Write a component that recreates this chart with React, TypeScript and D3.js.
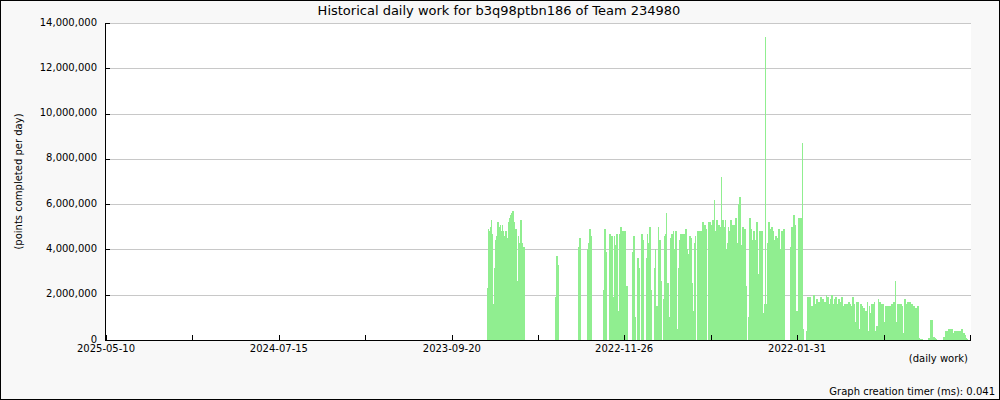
import React from 'react';
import * as d3 from 'd3';

const TITLE = 'Historical daily work for b3q98ptbn186 of Team 234980';
const Y_LABEL = '(points completed per day)';
const X_LABEL = '(daily work)';
const FOOTER = 'Graph creation timer (ms): 0.041';
const Y_TICKS = [0, 2e6, 4e6, 6e6, 8e6, 10e6, 12e6, 14e6];
const X_TICK_LABELS = ['2025-05-10', '2024-07-15', '2023-09-20', '2022-11-26', '2022-01-31'];
const X_DOMAIN = ['2025-05-10', '2021-04-07'];
const X_TICK_INTERVALS = 10;
const LATEST_DAY = '2023-07-20';
const UNIT = 100000;
// daily points (x100,000), newest day first; "0*n" = n days without work
const DAILY = `
23 49 49 48 48 50 50 53 47 47 16 16 32 32 44 46 46 52 52 50 50 49 51 51 48 48 51 48 48 46 46 48 48 46 45 45
52 52 54 54 55 56 56 57 57 53 52 52 49 49 26 26 17 46 46 43 43 53 53 41 43 43 41 41
0*53
19 19 37 37 33 33
0*34
41 41 45 45 19
0*11
40 40 43 49 49 46 46 22
0*19
22 22 49 49 39 39
0*5
47 47 43 46 46 19 19 0 0 46 42 42 47 47 0 13 13 47 47 50 50 46 48 48 48 48 45 45 48 24 24
0*9
39 46 46 10 10
0*3
36 36 32 32
0*3
47 47 44 44
0*5
36 36 47 43 43 50 50 22 22
0*5
32 40 40 15 15 0 0 50 44 44 26 26
0*3
18 18 46 46 47 56 56 25 25 10 10 0 45 45 47 47 42 42 48 40 40 48 48 0 0 5 32 32 44 44 47 47 47 41 41 47 47
46 49 49 40 40 0 0 38 46 46 45 45 23 25 25 13 13 43 43 46 0 0 48 48 48 48 46 48 48 46 46 52 52 48 51 51 49 49
49 0 0 52 52 52 52 50 51 51 53 53 46 46 62 48 48 53 53 24 51 51 50 50 49 49 72 53 53 49 49 50 50 53 40 40 43 43
50 48 48 53 53 51 51 50 51 51 41 41 54 54 52 43 43 60 60 63 63 49 42 42 50 50 46 49 49 24 24
0*3
10 10 54 54 49 49 48 44 44 48 48 41 44 44 52 52 29 29 23 48 48 47 47 48 48 16 12 12 16 16 134 16 12 43 43 52 52
51 49 49 50 50 48 48 43 44 44 46 46 45 45 46 49 49 40 40 0 48 48 44 44 49 49
0*10
41 41 50 50 36 55 55 51 51 51 13 13 8 8 54 54 53 54 54 4 4 87 5
0*5
4 19 19 18 18 19 19 18 15 15 15 15 20 20 14 16 16 18 18 16 17 17 16 16 19 19 18 18 18 16 16 17 17 20 19 19 19 19
16 16 16 18 18 20 20 16 16 16 18 18 19 19 18 16 16 18 18 17 17 15 19 19 15 15 15 16 16 16 16 15 15 16 17 17 16 16
15 15 19 19 19 16 16 8 8 17 17 17 17 17 16 5 5 16 16 15 15 12 14 14 0 0 13 13 17 4 4 1.5 1.5 15 12 12 16 16 16 16
17 4 4 0 0 6 6 18 17 17 17 17 16 16 15 16 16 8 8 4 15 15 15 15 15 15 14 15 15 13 13 16 16 17 17 17 8 8 26 8 8
16 16 16 16 16 16 16 15 15 3 3 15 18 18 14 14 16 17 17 15 15 17 17 16 16 16 14 14 15 15 14 14 14 11 11 15 15 1
0.5 0.5 0.5 0.5 0.4
0*11
1 1 7 9 9 7 7 9 1.5 1.5 1 1 0.5 0.5
0*12
1.5 1.5 4 2 2 4 4 2 5 5 4 4 5 5 5 3 3 2 2 4 4 4 4 4 4 4 3 4 4 4 4 5 5 3 3 3 2 2 1 1 0.5
`;

const parseDate = d3.utcParse('%Y-%m-%d');
const DAY_MS = 86400000;

function expand(src: string): number[] {
  const out: number[] = [];
  src.trim().split(/\s+/).forEach((tok) => {
    if (tok.includes('*')) {
      const [v, n] = tok.split('*');
      for (let i = 0; i < +n; i++) out.push(+v);
    } else out.push(+tok);
  });
  return out;
}

const FONT = '"DejaVu Sans", Verdana, sans-serif';
const BG = '#f8f8f8';
const GRID = '#c8c8c8';
const BAR = '#90ee90';

export default function App() {
  const W = 1000;
  const H = 400;
  const left = 106;
  const right = 970;
  const top = 23;
  const bottom = 340;

  const d0 = parseDate(X_DOMAIN[0])!;
  const d1 = parseDate(X_DOMAIN[1])!;
  const x = d3.scaleUtc().domain([d0, d1]).range([left, right]);
  const y = d3.scaleLinear().domain([0, 14e6]).range([bottom, top]);
  const fmt = d3.format(',');

  const latest = parseDate(LATEST_DAY)!.getTime();
  const values = expand(DAILY);
  const bars = values
    .map((v, i) => ({ date: new Date(latest - i * DAY_MS), value: v * UNIT }))
    .filter((d) => d.value > 0);

  const tickDates = d3.range(X_TICK_INTERVALS + 1).map(
    (i) => new Date(d0.getTime() + ((d1.getTime() - d0.getTime()) * i) / X_TICK_INTERVALS)
  );

  return (
    <svg
      width={W}
      height={H}
      style={{ position: 'absolute', left: 0, top: 0, display: 'block' }}
      fontFamily={FONT}
    >
      <rect x={0.5} y={0.5} width={W - 1} height={H - 1} fill={BG} stroke="#000" />
      <rect x={left} y={top} width={right - left + 1} height={bottom - top} fill="#fff" />
      {Y_TICKS.filter((t) => t > 0).map((t) => (
        <line
          key={'g' + t}
          x1={left}
          x2={right + 1}
          y1={Math.round(y(t)) + 0.5}
          y2={Math.round(y(t)) + 0.5}
          stroke={GRID}
        />
      ))}
      <g shapeRendering="crispEdges">
        {bars.map((d, i) => {
          const bx = Math.floor(x(d.date));
          const by = y(d.value);
          return <rect key={i} x={bx} y={by} width={1} height={bottom - by} fill={BAR} />;
        })}
      </g>
      {/* axes */}
      <line x1={left - 0.5} x2={left - 0.5} y1={top} y2={bottom + 1} stroke="#000" />
      <line x1={left - 1} x2={right + 1} y1={bottom + 0.5} y2={bottom + 0.5} stroke="#000" />
      {Y_TICKS.map((t) => (
        <g key={'y' + t}>
          <line
            x1={left - 1}
            x2={left + 4}
            y1={Math.round(y(t)) + 0.5}
            y2={Math.round(y(t)) + 0.5}
            stroke="#000"
          />
          <text x={97} y={y(t)} dy="0.25em" textAnchor="end" fontSize={10} fill="#000">
            {fmt(t)}
          </text>
        </g>
      ))}
      {tickDates.map((d, i) => (
        <line
          key={'xt' + i}
          x1={Math.round(x(d)) + 0.5}
          x2={Math.round(x(d)) + 0.5}
          y1={bottom - 5}
          y2={bottom}
          stroke="#000"
        />
      ))}
      {X_TICK_LABELS.map((s) => (
        <text key={s} x={x(parseDate(s)!)} y={352} textAnchor="middle" fontSize={10} fill="#000">
          {s}
        </text>
      ))}
      <text x={499} y={15} textAnchor="middle" fontSize={13} fill="#000">
        {TITLE}
      </text>
      <text x={968} y={362} textAnchor="end" fontSize={10} fill="#000">
        {X_LABEL}
      </text>
      <text x={995} y={395} textAnchor="end" fontSize={10} fill="#000">
        {FOOTER}
      </text>
      <text
        transform={`translate(22,${(top + bottom) / 2}) rotate(-90)`}
        textAnchor="middle"
        fontSize={10}
        fill="#000"
      >
        {Y_LABEL}
      </text>
    </svg>
  );
}
